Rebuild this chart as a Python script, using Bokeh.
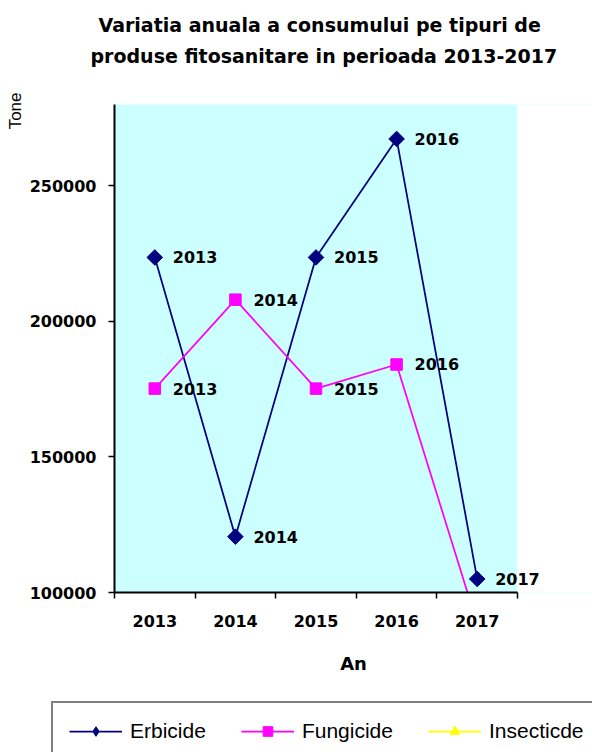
import math
from bokeh.plotting import figure
from bokeh.layouts import column
from bokeh.models import (ColumnDataSource, Range1d, FixedTicker, LabelSet, Title,
                          Legend, LegendItem, BasicTickFormatter, BoxAnnotation)
from bokeh.core.properties import value
from bokeh.embed import file_html
from bokeh.resources import INLINE

# ---- data ----
YEARS = ["2013", "2014", "2015", "2016", "2017"]
ERBICIDE = [223600, 120600, 223600, 267300, 105000]
FUNGICIDE = [175200, 208000, 175200, 184100, 88500]
# Insecticide values are not visible (they fall below the axis minimum)
INSECTICIDE = [float("nan")] * 5
Y_TICKS = [100000, 150000, 200000, 250000]
Y_MIN, Y_MAX = 100000, 280000

TITLE_1 = "Variatia anuala a consumului pe tipuri de"
TITLE_2 = "produse fitosanitare in perioada 2013-2017"
Y_CAPTION = "Tone"
X_CAPTION = "An"

# ---- styles: name, values, colour, plot marker, angle, size, legend marker, labelled ----
SERIES = [
    ("Erbicide", ERBICIDE, "#000080", "square", math.pi / 4, 11, "diamond", True),
    ("Fungicide", FUNGICIDE, "#FF00FF", "square", 0.0, 11.5, "square", True),
    ("Insecticde", INSECTICIDE, "#FFFF00", "triangle", 0.0, 12, "triangle", False),
]
BOLD_FONT = "DejaVu Sans"
REG_FONT = "Liberation Sans"

W = 592
H_CHART, H_LEGEND = 690, 62
F_LEFT, F_RIGHT, F_TOP, F_BOTTOM = 114, 517, 104, 592   # plot area in pixels
n = len(YEARS)
centers = [i + 0.5 for i in range(n)]
bounds = [float(i) for i in range(n + 1)]
# frame runs to the canvas edge so that the last data label is not clipped
x_end = n * (W - F_LEFT) / (F_RIGHT - F_LEFT)

p = figure(width=W, height=H_CHART,
           x_range=Range1d(0, x_end), y_range=Range1d(Y_MIN, Y_MAX),
           output_backend="svg", toolbar_location=None,
           min_border_left=F_LEFT, min_border_right=0,
           min_border_top=F_TOP, min_border_bottom=H_CHART - F_BOTTOM,
           background_fill_color="#CCFFFF", border_fill_color="white",
           outline_line_color=None, frame_align=False)
p.xgrid.visible = False
p.ygrid.visible = False

# white area right of the plot area
p.add_layout(BoxAnnotation(left=n, fill_color="white", fill_alpha=1.0,
                           line_color="white", line_width=2, level="underlay"))

# x axis
xa = p.xaxis[0]
xa.bounds = (0, n)
xa.ticker = FixedTicker(ticks=centers, minor_ticks=bounds)
xa.major_label_overrides = {c: y for c, y in zip(centers, YEARS)}
xa.major_tick_out = 0
xa.major_tick_in = 0
xa.minor_tick_out = 6
xa.minor_tick_in = 0
xa.minor_tick_line_color = "black"
xa.minor_tick_line_width = 1.5
xa.axis_line_width = 2
xa.axis_line_color = "black"
xa.major_label_text_font = BOLD_FONT
xa.major_label_text_font_style = "bold"
xa.major_label_text_font_size = "16px"
xa.major_label_text_color = "black"
xa.major_label_standoff = 16
xa.axis_label = X_CAPTION
xa.axis_label_text_font = BOLD_FONT
xa.axis_label_text_font_style = "bold"
xa.axis_label_text_font_size = "18px"
xa.axis_label_text_color = "black"
xa.axis_label_standoff = 23

# y axis
ya = p.yaxis[0]
ya.ticker = FixedTicker(ticks=Y_TICKS)
ya.formatter = BasicTickFormatter(use_scientific=False)
ya.major_tick_out = 6
ya.major_tick_in = 0
ya.major_tick_line_width = 1.5
ya.major_tick_line_color = "black"
ya.minor_tick_out = 0
ya.minor_tick_in = 0
ya.axis_line_width = 2
ya.axis_line_color = "black"
ya.major_label_text_font = BOLD_FONT
ya.major_label_text_font_style = "bold"
ya.major_label_text_font_size = "16px"
ya.major_label_text_color = "black"
ya.major_label_standoff = 12

# legend lives in its own strip below the chart; its frame is the whole strip
lg = figure(width=W, height=H_LEGEND, x_range=Range1d(0, 1), y_range=Range1d(0, 1),
            output_backend="svg", toolbar_location=None,
            x_axis_location=None, y_axis_location=None,
            min_border=0, outline_line_color=None,
            background_fill_color="white", border_fill_color="white",
            frame_align=False)
lg.xgrid.visible = False
lg.ygrid.visible = False

items = []
for name, vals, color, marker, angle, size, lmarker, labelled in SERIES:
    src = ColumnDataSource(dict(x=centers, y=vals, year=YEARS))
    p.line("x", "y", source=src, line_color=color, line_width=1.75)
    p.scatter("x", "y", source=src, marker=marker, angle=angle, size=size,
              fill_color=color, line_color=color)
    # legend swatches: same series and styling (points fall outside this strip's ranges)
    ll = lg.line("x", "y", source=src, line_color=color, line_width=1.75)
    ls = lg.scatter("x", "y", source=src, marker=lmarker, size=size,
                    fill_color=color, line_color=color)
    items.append(LegendItem(label=name, renderers=[ll, ls]))
    if labelled:
        keep = [i for i, v in enumerate(vals) if v == v and Y_MIN <= v <= Y_MAX]
        lsrc = ColumnDataSource(dict(x=[centers[i] for i in keep],
                                     y=[vals[i] for i in keep],
                                     year=[YEARS[i] for i in keep]))
        p.add_layout(LabelSet(x="x", y="y", text="year", source=lsrc,
                              x_offset=18, y_offset=0,
                              text_align="left", text_baseline="middle",
                              text_font=value(BOLD_FONT), text_font_style="bold",
                              text_font_size="16px", text_color="black"))

# two-line title; panels stack outward from the plot area
title_style = dict(text_font=BOLD_FONT, text_font_style="bold",
                   text_font_size="19px", text_color="black")
p.add_layout(Title(text=" ", standoff=12.5, **title_style), "above")   # gap
p.add_layout(Title(text=TITLE_2, align="left", offset=-24, standoff=2,
                   **title_style), "above")
p.add_layout(Title(text=TITLE_1, align="left", offset=-16, standoff=12,
                   **title_style), "above")

# "Tone" caption at the top of the value axis
p.add_layout(Title(text=Y_CAPTION, align="right", offset=-12, standoff=3,
                   text_font=REG_FONT, text_font_style="normal",
                   text_font_size="17px", text_color="black"), "left")

legend = Legend(items=items, location=(51, -9), orientation="horizontal",
                glyph_width=53, glyph_height=24, padding=16, spacing=35,
                label_standoff=8, label_text_font=REG_FONT,
                label_text_font_size="21px", label_text_color="black",
                border_line_color="black", border_line_width=2,
                background_fill_color="white", background_fill_alpha=1.0,
                margin=0)
lg.add_layout(legend)

layout = column(p, lg, spacing=0)
open("out.html", "w").write(file_html(layout, INLINE))
